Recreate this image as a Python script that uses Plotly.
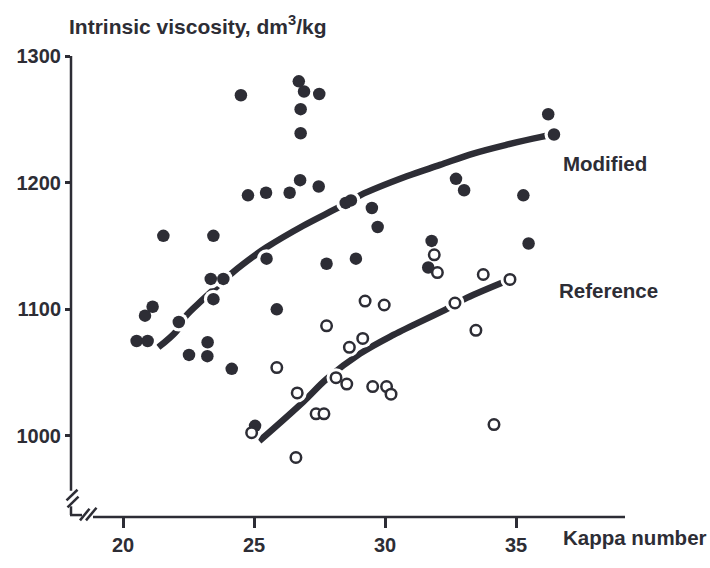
import plotly.graph_objects as go

# ---- data ----
mod_kappa = [24.50, 26.71, 26.91, 27.49, 26.78, 26.78, 26.76, 27.47, 24.77, 25.46, 26.36,
             21.54, 23.45, 28.50, 28.70, 36.23, 36.45, 32.71, 33.02, 35.28, 29.50, 29.72,
             31.78, 35.48, 28.89, 25.48, 27.77, 31.65, 23.35, 23.83, 23.45, 21.13, 20.84,
             22.13, 20.52, 20.94, 25.87, 23.23, 22.52, 23.22, 24.15, 25.04]
mod_visc = [1269, 1280, 1272, 1270, 1258, 1239, 1202, 1197, 1190, 1192, 1192,
            1158, 1158, 1184, 1186, 1254, 1238, 1203, 1194, 1190, 1180, 1165,
            1154, 1152, 1140, 1140, 1136, 1133, 1124, 1124, 1108, 1102, 1095,
            1090, 1075, 1075, 1100, 1074, 1064, 1063, 1053, 1008]

ref_kappa = [27.77, 28.64, 25.87, 26.65, 28.13, 28.54, 27.37, 27.67, 31.88, 32.00, 33.75,
             34.77, 29.24, 29.97, 32.67, 33.47, 29.15, 29.53, 30.06, 30.23, 34.16, 26.60, 24.91]
ref_visc = [1087, 1070, 1054, 1034, 1046, 1041, 1017.5, 1017.5, 1143, 1129, 1127.5,
            1123.6, 1106.5, 1103.4, 1105, 1083.4, 1077, 1039, 1039, 1033, 1009, 983, 1002.6]

mod_fit_kappa = [21.35, 22.05, 22.37, 23.06, 24.21, 25.10, 25.48, 26.88, 28.28, 29.05,
                 30.83, 32.10, 33.37, 34.65, 35.92, 36.45]
mod_fit_visc = [1070, 1083, 1094, 1108, 1129.5, 1143.6, 1149, 1166, 1181, 1190,
                1205, 1214, 1223, 1230, 1236, 1238]

ref_fit_kappa = [25.20, 26.88, 27.77, 29.05, 30.34, 32.42, 33.12, 34.77]
ref_fit_visc = [996, 1027, 1045, 1065, 1080, 1101, 1109, 1123.6]

x_ticks = [20, 25, 30, 35]
y_ticks = [1000, 1100, 1200, 1300]

# ---- layout geometry ----
W, H = 710, 568
L, R, T, B = 71, 625, 56, 530
SX = 26.2              # px per kappa unit
XA = 20 - (123 - L) / SX
XB = XA + (R - L) / SX
SY = (446.7 - 56) / 300.0
YA = 1000 - (B - 446.7) / SY
YB = 1300

INK = "#2d2d35"
FONT = "Liberation Sans, Arial, sans-serif"


def px(x):
    return (x - L) / (R - L)


def py(y):
    return (B - y) / (B - T)


fig = go.Figure()

# fitted curves
for fk, fv in ((mod_fit_kappa, mod_fit_visc), (ref_fit_kappa, ref_fit_visc)):
    fig.add_trace(go.Scatter(x=fk, y=fv, mode="lines",
                             line=dict(color=INK, width=6.5, shape="spline"),
                             hoverinfo="skip", showlegend=False))

# white halo under every marker (breaks the curves around points)
fig.add_trace(go.Scatter(x=mod_kappa + ref_kappa, y=mod_visc + ref_visc, mode="markers",
                         marker=dict(size=19, color="white", line=dict(width=0)),
                         hoverinfo="skip", showlegend=False))

fig.add_trace(go.Scatter(x=mod_kappa, y=mod_visc, mode="markers",
                         marker=dict(size=12.5, color=INK, line=dict(width=0)),
                         showlegend=False))
fig.add_trace(go.Scatter(x=ref_kappa, y=ref_visc, mode="markers",
                         marker=dict(size=10.5, color="white", line=dict(color=INK, width=2.5)),
                         showlegend=False))

LW = 2.5
shapes = []


def seg(x0, y0, x1, y1):
    shapes.append(dict(type="line", xref="paper", yref="paper",
                       x0=px(x0), y0=py(y0), x1=px(x1), y1=py(y1),
                       line=dict(color=INK, width=LW)))


# y axis line (top part)
seg(L, T, L, 503)
# y axis break slashes
seg(66.5, 513, 77.5, 502)
seg(67.5, 520, 78.5, 509)
# lower stub and corner
seg(L, 519, L, 528)
seg(L - 1, 528, 82, 528)
# x axis break slashes
seg(80, 533.5, 89.5, 521.5)
seg(86, 533.5, 96.5, 520.5)
# x axis line
seg(93, B, R, B)

BIG = dict(family=FONT, size=20, color=INK, weight="bold")

fig.update_layout(
    width=W, height=H,
    margin=dict(l=L, r=W - R, t=T, b=H - B, pad=0),
    paper_bgcolor="white", plot_bgcolor="white",
    shapes=shapes,
    xaxis=dict(range=[XA, XB], showgrid=False, zeroline=False, showline=False,
               tickmode="array", tickvals=x_ticks, ticktext=[str(v) for v in x_ticks],
               ticks="outside", ticklen=10, tickwidth=LW, tickcolor=INK,
               tickfont=BIG),
    yaxis=dict(range=[YA, YB], showgrid=False, zeroline=False, showline=False,
               tickmode="array", tickvals=y_ticks, ticktext=[str(v) for v in y_ticks],
               ticks="outside", ticklen=5, tickwidth=LW, tickcolor=INK,
               tickfont=BIG),
    annotations=[
        dict(text="Intrinsic viscosity, dm<sup>3</sup>/kg", xref="paper", yref="paper",
             x=px(67), y=py(24), xanchor="left", yanchor="middle", showarrow=False,
             font=dict(family=FONT, size=21, color=INK, weight="bold")),
        dict(text="Kappa number", xref="paper", yref="paper",
             x=px(561), y=py(551), xanchor="left", yanchor="middle", showarrow=False,
             font=dict(family=FONT, size=20.5, color=INK, weight="bold")),
        dict(text="Modified", xref="paper", yref="paper",
             x=px(561), y=py(167), xanchor="left", yanchor="middle", showarrow=False,
             font=dict(family=FONT, size=20.5, color=INK, weight="bold")),
        dict(text="Reference", xref="paper", yref="paper",
             x=px(557), y=py(297), xanchor="left", yanchor="middle", showarrow=False,
             font=dict(family=FONT, size=20.5, color=INK, weight="bold")),
    ],
)

fig.write_html("out.html")
